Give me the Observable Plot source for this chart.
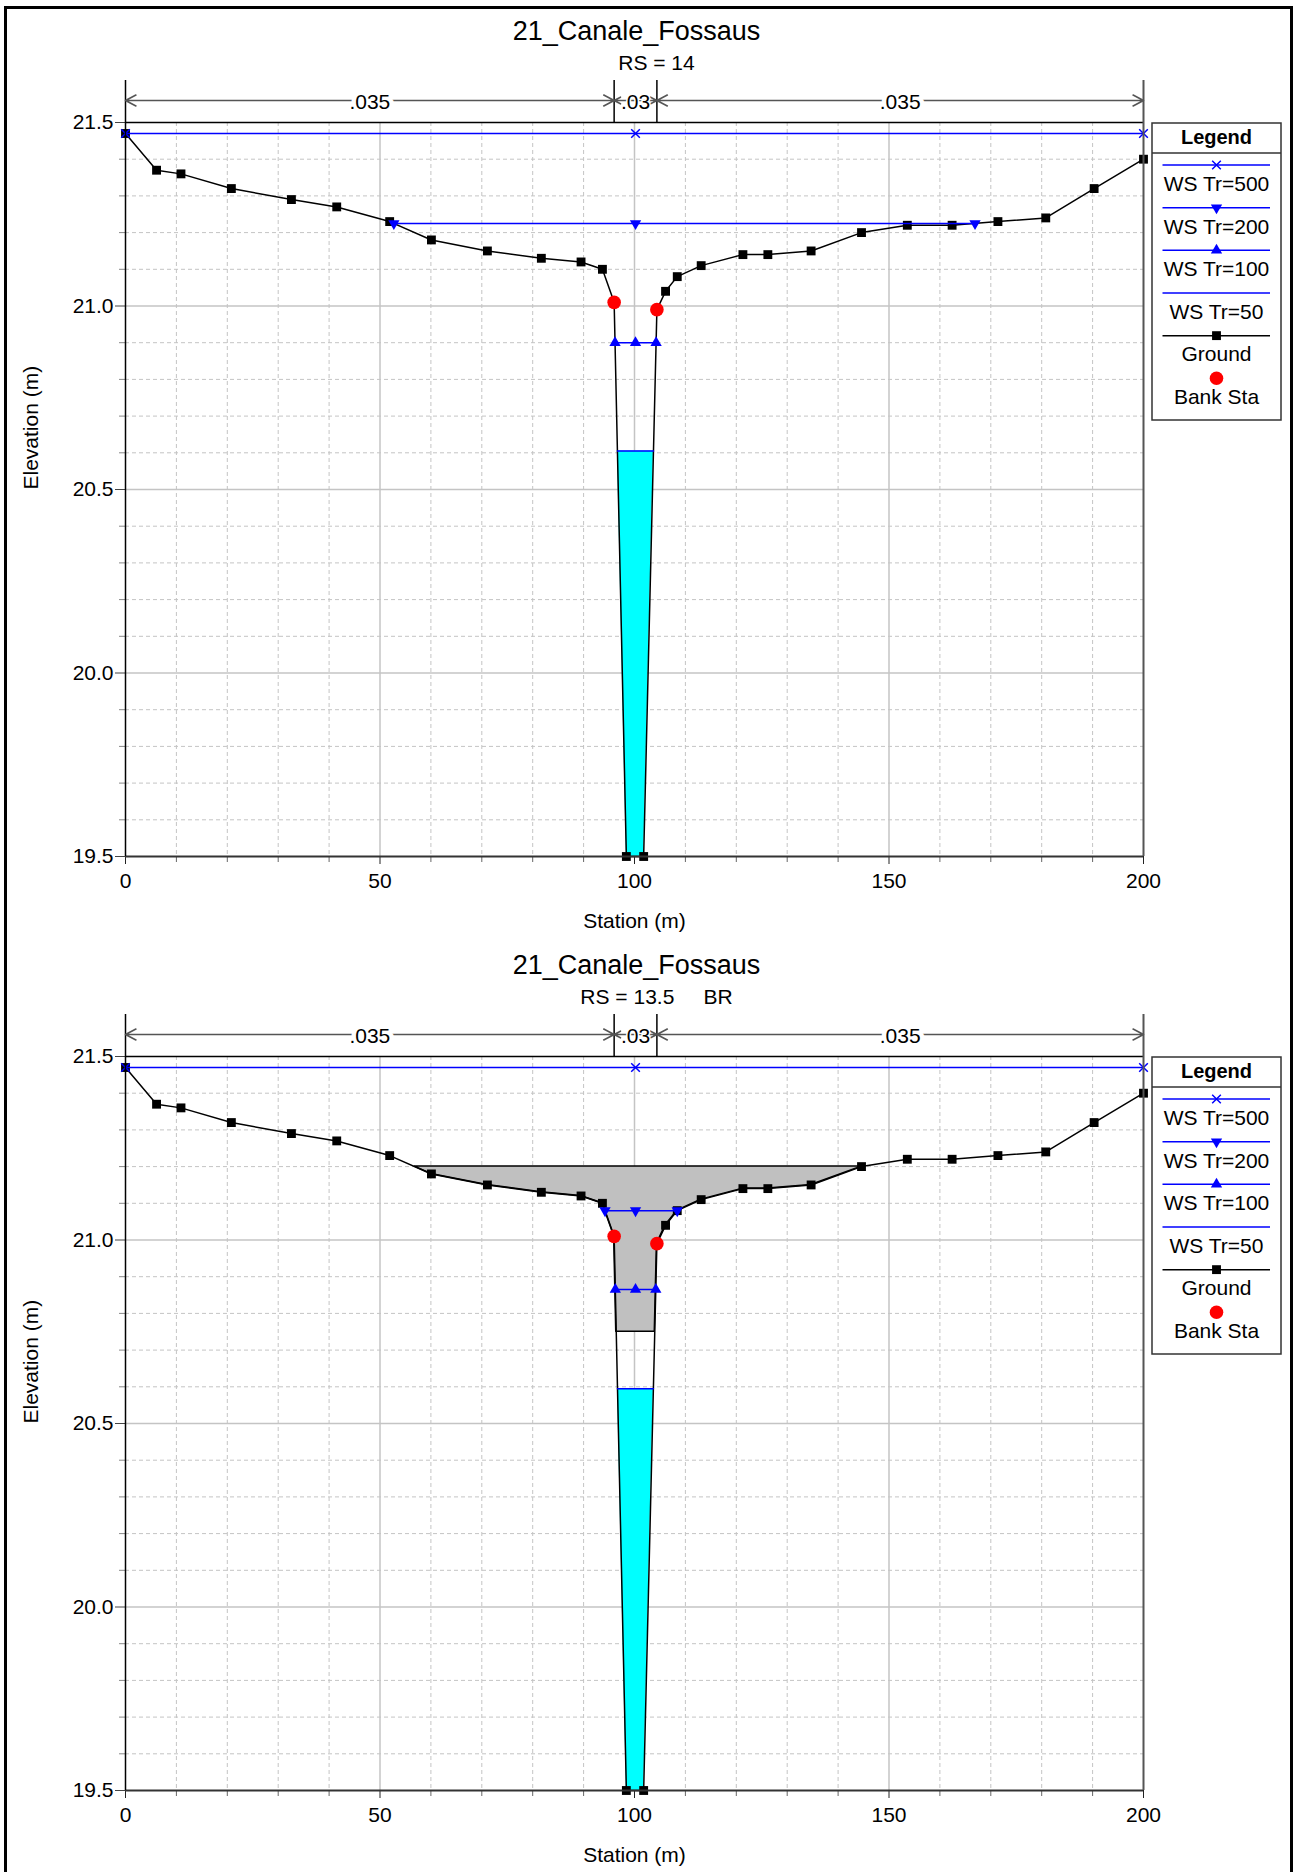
<!DOCTYPE html>
<html>
<head>
<meta charset="utf-8">
<script src="https://cdn.jsdelivr.net/npm/d3@7"></script>
<script src="https://cdn.jsdelivr.net/npm/@observablehq/plot@0.6"></script>
<style>
  body { margin: 0; background: #fff; }
  #page { position: relative; width: 1297px; height: 1872px; overflow: hidden; font-family: "Liberation Sans", Arial, sans-serif; background: #fff; }
  #frame { position: absolute; left: 4px; top: 6px; width: 1289px; height: 1900px; border: 3px solid #000; box-sizing: border-box; }
  .panel { position: absolute; left: 0; width: 1297px; height: 934px; }
  .panel > svg { position: absolute; left: 0; top: 0; }
</style>
</head>
<body>
<div id="page"><div id="frame"></div></div>
<script>
// ---------------- DATA ----------------
const stations   = [0, 6.1, 10.9, 20.8, 32.6, 41.5, 51.9, 60.1, 71.1, 81.7, 89.5, 93.7, 96.0, 98.4, 101.8, 104.4, 106.1, 108.4, 113.1, 121.3, 126.2, 134.7, 144.6, 153.6, 162.4, 171.4, 180.8, 190.3, 200];
const elevations = [21.47, 21.37, 21.36, 21.32, 21.29, 21.27, 21.23, 21.18, 21.15, 21.13, 21.12, 21.10, 21.01, 19.50, 19.50, 20.99, 21.04, 21.08, 21.11, 21.14, 21.14, 21.15, 21.20, 21.22, 21.22, 21.23, 21.24, 21.32, 21.40];
const bankStations = [96.0, 104.4];
const profiles = ["WS Tr=500", "WS Tr=200", "WS Tr=100", "WS Tr=50"];
const wsRS14  = [21.47, 21.225, 20.90, 20.605];
const wsRS135 = [21.47, 21.08, 20.865, 20.595];
const deckHighChord = 21.20;
const deckLowChord  = 20.75;
const nBreaks = [0, 96.0, 104.4, 200];
const nValues = [".035", ".03", ".035"];
const xMajorTicks = [0, 50, 100, 150, 200];
const yMajorTicks = [19.5, 20.0, 20.5, 21.0, 21.5];
const chartTitle = "21_Canale_Fossaus";
const subtitles = ["RS = 14", "RS = 13.5     BR"];
const legendNames = [...profiles, "Ground", "Bank Sta"];

// ---------------- LAYOUT ----------------
const W = 1297, H = 934;
const ML = 125, MR = 154, MT = 122, MB = 78;
const pxPerM = (H - MT - MB) / 2;
const FONT = '"Liberation Sans", Arial, sans-serif';
const BLUE = "#0000ff";
const GRID = "#c4c4c4";

const ground = stations.map((s, i) => ({x: s, y: elevations[i]}));
const xMinor = d3.range(10, 200, 10).filter(d => d % 50 !== 0);
const yMinor = d3.range(196, 215).map(d => d / 10).filter(d => Math.round(d * 10) % 5 !== 0);

function gAt(x) {
  for (let i = 0; i < stations.length - 1; i++) {
    if (x >= stations[i] && x <= stations[i + 1]) {
      const t = (x - stations[i]) / (stations[i + 1] - stations[i]);
      return elevations[i] + t * (elevations[i + 1] - elevations[i]);
    }
  }
  return NaN;
}
function extentAt(level) {
  const n = stations.length;
  const b = elevations.indexOf(d3.min(elevations));
  let L = stations[0], R = stations[n - 1];
  for (let i = b; i > 0; i--) if (elevations[i - 1] > level) {
    L = stations[i] + (level - elevations[i]) / (elevations[i - 1] - elevations[i]) * (stations[i - 1] - stations[i]); break;
  }
  for (let i = b; i < n - 1; i++) if (elevations[i + 1] > level) {
    R = stations[i] + (level - elevations[i]) / (elevations[i + 1] - elevations[i]) * (stations[i + 1] - stations[i]); break;
  }
  return [L, R];
}
function regionBelow(level, floor) {
  const [L, R] = extentAt(level);
  let xs = [L, R, ...stations.filter(s => s > L && s < R)];
  if (floor != null) {
    for (let i = 0; i < stations.length - 1; i++) {
      const a = elevations[i], b = elevations[i + 1];
      if ((a - floor) * (b - floor) < 0) {
        const x = stations[i] + (floor - a) / (b - a) * (stations[i + 1] - stations[i]);
        if (x > L && x < R) xs.push(x);
      }
    }
  }
  xs = Array.from(new Set(xs)).sort((a, b) => a - b);
  return xs.map(x => {
    const g = gAt(x);
    return {x, lo: Math.min(floor == null ? g : Math.max(g, floor), level), hi: level};
  });
}

function makeChart(ws, subtitle, withDeck) {
  const yTop = 21.5 + 42 / pxPerM;
  const yArrow = 21.5 + 22 / pxPerM;
  const yLabel = 21.5 + 20 / pxPerM;
  const bankMid = (bankStations[0] + bankStations[1]) / 2;
  const spans = nValues.map((v, i) => ({a: nBreaks[i], b: nBreaks[i + 1], m: (nBreaks[i] + nBreaks[i + 1]) / 2, v, halo: (nBreaks[i + 1] - nBreaks[i]) > 20 ? 9 : 3}));
  const arrows = spans.flatMap(s => [{x1: s.m, x2: s.a}, {x1: s.m, x2: s.b}]);

  const marks = [
    Plot.gridX(xMinor, {stroke: GRID, strokeOpacity: 1, strokeWidth: 1, strokeDasharray: "4,3"}),
    Plot.gridY(yMinor, {stroke: GRID, strokeOpacity: 1, strokeWidth: 1, strokeDasharray: "4,3"}),
    Plot.gridX([50, 100, 150], {stroke: GRID, strokeOpacity: 1, strokeWidth: 1.5}),
    Plot.gridY([20.0, 20.5, 21.0], {stroke: GRID, strokeOpacity: 1, strokeWidth: 1.5}),
  ];
  if (withDeck) {
    marks.push(Plot.areaY(regionBelow(deckHighChord, deckLowChord), {x: "x", y1: "lo", y2: "hi", fill: "#c0c0c0", stroke: "#000", strokeWidth: 1.5}));
  }
  // water of lowest profile
  const low = ws[ws.length - 1];
  marks.push(Plot.areaY(regionBelow(low, null), {x: "x", y1: "lo", y2: "hi", fill: "#00ffff"}));
  // ground
  marks.push(Plot.line(ground, {x: "x", y: "y", stroke: "#000", strokeWidth: 1.5}));
  marks.push(Plot.dot(ground, {x: "x", y: "y", symbol: "square", r: 5, fill: "#000"}));
  // water surfaces
  ws.forEach((level, i) => {
    const [L, R] = extentAt(level);
    marks.push(Plot.line([{x: L, y: level}, {x: R, y: level}], {x: "x", y: "y", stroke: BLUE, strokeWidth: 1.5}));
    const pts = [L, bankMid, R].map(x => ({x, y: level}));
    if (i === 0) marks.push(Plot.dot(pts, {x: "x", y: "y", symbol: "times", r: 4, stroke: BLUE, strokeWidth: 1.5}));
    if (i === 1) marks.push(Plot.dot(pts, {x: "x", y: "y", symbol: "triangle", r: 4.2, fill: BLUE, rotate: 180}));
    if (i === 2) marks.push(Plot.dot(pts, {x: "x", y: "y", symbol: "triangle", r: 4.2, fill: BLUE}));
  });
  // bank stations
  marks.push(Plot.dot(bankStations.map(x => ({x, y: gAt(x)})), {x: "x", y: "y", r: 6.8, fill: "#ff0000"}));

  // axes
  marks.push(
    Plot.axisY(yMinor, {anchor: "left", tickSize: 6, tickFormat: () => "", stroke: "#888", label: null}),
    Plot.axisY(yMajorTicks, {anchor: "left", tickSize: 10, tickPadding: 2, tickFormat: d3.format(".1f"), stroke: "#444", fill: "#000", label: null}),
    Plot.axisX(xMinor, {anchor: "bottom", tickSize: 6, tickFormat: () => "", stroke: "#666", label: null}),
    Plot.axisX(xMajorTicks, {anchor: "bottom", tickSize: 8, tickPadding: 9, stroke: "#222", fill: "#000", label: null}),
    Plot.ruleY([21.5], {x1: 0, x2: 200, stroke: "#000", strokeWidth: 1.5}),
    Plot.ruleY([19.5], {x1: 0, x2: 200, stroke: "#333", strokeWidth: 2}),
    Plot.ruleX([0], {y1: 19.5, y2: yTop, stroke: "#000", strokeWidth: 1.5}),
    Plot.ruleX([200], {y1: 19.5, y2: yTop, stroke: "#555", strokeWidth: 2}),
    Plot.ruleX(nBreaks.slice(1, -1), {y1: 21.5, y2: yTop, stroke: "#000", strokeWidth: 1.5}),
    // Manning's n annotation
    Plot.arrow(arrows, {x1: "x1", x2: "x2", y1: yArrow, y2: yArrow, stroke: "#555", strokeWidth: 1.6, headLength: 11, headAngle: 55}),
    Plot.text(spans, {x: "m", y: yLabel, text: "v", fontSize: 21, fill: "#000", stroke: "#fff", strokeWidth: "halo", paintOrder: "stroke", lineAnchor: "middle"}),
    // labels
    Plot.text([chartTitle], {frameAnchor: "top", dx: 2, dy: 31 - MT, fontSize: 27, lineAnchor: "middle", fill: "#000"}),
    Plot.text([subtitle], {frameAnchor: "top", dx: 22, dy: 63 - MT, fontSize: 21, lineAnchor: "middle", fill: "#000", style: {whiteSpace: "pre"}}),
    Plot.text(["Station (m)"], {frameAnchor: "bottom", dy: 65, fontSize: 21, lineAnchor: "middle", fill: "#000"}),
    Plot.text(["Elevation (m)"], {frameAnchor: "left", dx: -94, rotate: -90, fontSize: 21, lineAnchor: "middle", fill: "#000"})
  );

  return Plot.plot({
    width: W, height: H,
    marginLeft: ML, marginRight: MR, marginTop: MT, marginBottom: MB,
    x: {domain: [0, 200]},
    y: {domain: [19.5, 21.5]},
    style: {fontFamily: FONT, fontSize: "21px", background: "none", overflow: "visible", color: "#000"},
    marks
  });
}

function drawLegend(panel) {
  const bx = 1152, by = 123, bw = 129, bh = 297;
  const svg = d3.select(panel).append("svg")
    .attr("width", bw + 4).attr("height", bh + 4)
    .style("position", "absolute").style("left", (bx - 2) + "px").style("top", (by - 2) + "px")
    .style("font-family", FONT);
  const g = svg.append("g").attr("transform", "translate(2,2)");
  g.append("rect").attr("x", 0).attr("y", 0).attr("width", bw).attr("height", bh)
    .attr("fill", "#fff").attr("stroke", "#333").attr("stroke-width", 1.5);
  g.append("line").attr("x1", 0).attr("x2", bw).attr("y1", 30).attr("y2", 30).attr("stroke", "#333").attr("stroke-width", 1.5);
  g.append("text").attr("x", bw / 2).attr("y", 14).attr("dy", "0.35em").attr("text-anchor", "middle")
    .attr("font-size", 20).attr("font-weight", "bold").text("Legend");
  const step = 42.66, y0 = 42, cx = 64.5, lx1 = 10.5, lx2 = 118;
  const sym = (type, r) => d3.symbol().type(type).size(Math.PI * r * r)();
  legendNames.forEach((name, i) => {
    const ly = y0 + i * step;
    const blue = i < 4;
    if (i < 5) {
      g.append("line").attr("x1", lx1).attr("x2", lx2).attr("y1", ly).attr("y2", ly)
        .attr("stroke", blue ? BLUE : "#000").attr("stroke-width", 1.5);
    }
    if (i === 0) g.append("path").attr("d", sym(d3.symbolTimes, 4)).attr("transform", `translate(${cx},${ly})`).attr("stroke", BLUE).attr("stroke-width", 1.5).attr("fill", "none");
    if (i === 1) g.append("path").attr("d", sym(d3.symbolTriangle, 4.2)).attr("transform", `translate(${cx},${ly}) rotate(180)`).attr("fill", BLUE);
    if (i === 2) g.append("path").attr("d", sym(d3.symbolTriangle, 4.2)).attr("transform", `translate(${cx},${ly})`).attr("fill", BLUE);
    if (i === 4) g.append("path").attr("d", sym(d3.symbolSquare, 5)).attr("transform", `translate(${cx},${ly})`).attr("fill", "#000");
    if (i === 5) g.append("circle").attr("cx", cx).attr("cy", ly).attr("r", 6.8).attr("fill", "#ff0000");
    g.append("text").attr("x", cx).attr("y", ly + 18.5).attr("dy", "0.35em").attr("text-anchor", "middle")
      .attr("font-size", 21).attr("fill", "#000").text(name);
  });
}

const page = document.getElementById("page");
[[wsRS14, subtitles[0], false], [wsRS135, subtitles[1], true]].forEach(([ws, sub, deck], k) => {
  const panel = document.createElement("div");
  panel.className = "panel";
  panel.style.top = (k * 934) + "px";
  page.appendChild(panel);
  panel.appendChild(makeChart(ws, sub, deck));
  drawLegend(panel);
});
</script>
</body>
</html>
